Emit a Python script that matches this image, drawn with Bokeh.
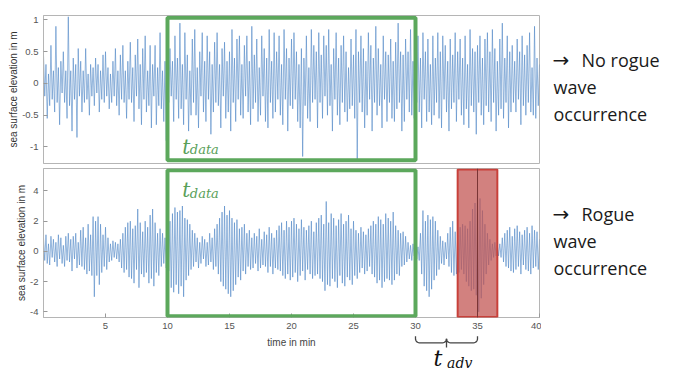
import numpy as np
from bokeh.plotting import figure
from bokeh.layouts import column, row
from bokeh.models import (BoxAnnotation, Span, Label, FixedTicker,
                          CustomJSTickFormatter, Range1d, ColumnDataSource)
from bokeh.core.properties import value
from bokeh.embed import file_html
from bokeh.resources import INLINE

# ---------------- data (sea surface elevation in m, sampled every 0.1 min) -------------
sample_step_min = 0.1

elev_no_rogue = [
    0.45,-0.2,0.3,-0.55,0.15,-0.35,0.6,-0.25,0.2,-0.45,
    0.9,-0.3,0.25,-0.65,0.35,-0.15,0.5,-0.3,0.2,-0.55,
    1.05,-0.35,0.2,-0.75,0.4,-0.25,0.3,-0.85,0.55,-0.2,
    0.35,-0.45,0.2,-0.3,0.55,-0.25,0.15,-0.5,0.3,-0.2,
    0.25,-0.35,0.4,-0.15,0.3,-0.45,0.2,-0.25,0.45,-0.3,
    0.5,-0.2,0.25,-0.4,0.15,-0.3,0.35,-0.2,0.55,-0.35,
    0.2,-0.5,0.45,-0.25,0.6,-0.3,0.2,-0.55,0.35,-0.25,
    0.65,-0.3,0.25,-0.6,0.45,-0.2,0.7,-0.4,0.3,-0.65,
    0.55,-0.25,0.75,-0.45,0.2,-0.35,0.6,-0.7,0.3,-0.2,
    0.6,-0.65,0.25,-0.35,0.8,-0.4,0.2,-0.6,0.35,-0.9,
    0.45,-0.3,0.55,-0.2,0.35,-0.6,0.75,-0.25,0.4,-0.55,
    0.95,-0.4,0.3,-0.65,0.8,-0.25,0.45,-0.75,0.2,-0.5,
    0.7,-0.3,0.85,-0.5,0.25,-0.7,0.5,-0.2,0.8,-0.45,
    0.35,-0.6,0.75,-0.25,0.5,-0.8,0.3,-0.45,0.65,-0.3,
    0.8,-0.35,0.3,-0.7,0.55,-0.2,0.65,-0.55,0.35,-0.45,
    0.5,-0.75,0.85,-0.3,0.4,-0.6,0.7,-0.25,0.75,-0.5,
    0.3,-0.55,0.6,-0.2,0.75,-0.45,0.35,-0.65,0.9,-0.4,
    0.45,-0.3,0.7,-0.6,0.25,-0.5,0.75,-0.2,0.55,-0.6,
    0.4,-0.7,0.85,-0.3,0.35,-0.55,0.8,-0.45,0.5,-0.25,
    0.75,-0.5,0.3,-0.65,0.85,-0.25,0.55,-0.75,0.4,-0.35,
    0.7,-0.4,0.8,-0.25,0.5,-0.6,0.3,-0.7,0.55,-1.15,
    0.4,-0.35,0.75,-0.55,0.25,-0.6,0.85,-0.3,0.6,-0.25,
    0.5,-0.7,0.8,-0.3,0.45,-0.55,0.75,-0.2,0.6,-0.5,
    0.85,-0.35,0.3,-0.75,0.55,-0.25,0.8,-0.5,0.4,-0.65,
    0.6,-0.3,0.75,-0.45,0.5,-0.6,0.25,-0.4,0.7,-0.35,
    0.45,-0.55,0.85,-1.2,0.5,-0.3,0.75,-0.45,0.55,-0.7,
    0.35,-0.5,0.8,-0.25,0.6,-0.75,0.4,-0.3,0.9,-0.5,
    0.55,-0.35,0.3,-0.7,0.75,-0.25,0.5,-0.6,0.45,-0.3,
    0.7,-0.55,0.35,-0.6,0.65,-0.4,0.95,-0.3,0.5,-0.75,
    0.45,-0.6,0.7,-0.25,0.5,-0.45,0.85,-0.5,0.35,-0.55,
    0.6,-0.3,0.75,-0.45,0.4,-0.7,0.8,-0.25,0.5,-0.6,
    0.7,-0.45,0.3,-0.65,0.75,-0.5,0.4,-0.3,0.8,-0.55,
    0.5,-0.7,0.75,-0.25,0.6,-0.45,0.35,-0.75,0.7,-0.4,
    0.45,-0.3,0.8,-0.6,0.5,-0.25,0.7,-0.5,0.4,-0.65,
    0.75,-0.4,0.3,-0.7,0.85,-0.35,0.55,-0.45,0.5,-0.8,
    0.6,-0.3,0.75,-0.5,0.4,-0.65,0.7,-0.35,0.8,-0.45,
    0.5,-0.6,0.85,-0.3,0.55,-0.75,0.35,-0.5,0.7,-0.4,
    0.95,-0.55,0.4,-0.3,0.75,-0.7,0.5,-0.45,0.6,-0.3,
    0.35,-0.45,0.7,-0.25,0.5,-0.65,0.75,-0.35,0.45,-0.5,
    0.6,-0.3,0.8,-0.45,0.25,-0.5,0.9,-0.55,0.4,-0.35,
    0.3,
]

elev_rogue = [
    0.9,-0.6,1.1,-0.8,0.5,-0.9,1.0,-0.4,0.8,-0.7,
    0.6,-1.0,1.1,-0.5,0.9,-0.8,0.4,-1.0,1.0,-0.6,
    1.2,-0.7,0.8,-1.3,1.0,-0.5,1.2,-1.1,0.6,-0.9,
    1.4,-1.0,1.6,-1.2,0.9,-1.5,1.8,-1.3,1.1,-1.6,
    2.3,-3.0,2.0,-1.6,2.3,-2.2,1.8,-1.4,1.1,-1.0,
    1.6,-1.2,0.9,-0.7,0.5,-0.6,0.7,-0.4,0.6,-0.5,
    0.5,-0.7,0.8,-1.1,1.2,-1.4,1.6,-1.2,1.9,-1.7,
    2.0,-1.8,1.5,-2.1,1.7,-1.2,2.8,-2.4,1.9,-1.5,
    1.3,-1.7,2.0,-1.4,1.6,-2.1,2.4,-1.8,2.8,-2.3,
    1.9,-1.4,1.2,-1.6,1.5,-1.0,1.2,-0.8,0.9,-1.1,
    1.8,-1.3,2.0,-2.4,2.5,-2.7,2.9,-2.2,2.6,-2.8,
    2.7,-2.3,3.0,-3.0,2.2,-1.9,2.1,-1.6,1.8,-1.2,
    1.4,-1.0,1.2,-0.7,0.9,-1.1,0.6,-0.8,1.0,-0.5,
    0.8,-1.0,0.6,-0.9,1.2,-0.7,0.9,-1.2,1.5,-1.0,
    1.8,-1.5,2.2,-2.0,2.6,-2.3,3.0,-2.5,2.4,-2.8,
    2.7,-3.0,2.2,-2.6,1.9,-2.2,2.1,-1.7,1.5,-1.9,
    1.6,-1.3,1.8,-1.5,1.2,-1.0,1.4,-1.2,0.9,-1.1,
    1.2,-0.8,1.0,-1.3,1.5,-1.1,0.8,-0.9,1.3,-1.0,
    1.1,-1.4,1.6,-1.0,1.2,-1.5,0.9,-1.1,1.4,-1.2,
    1.7,-1.3,1.9,-1.6,1.4,-1.8,2.0,-1.5,1.6,-1.9,
    2.0,-1.7,2.2,-1.4,1.8,-2.0,1.5,-1.6,2.1,-1.3,
    1.6,-1.9,1.4,-1.2,1.7,-1.5,2.0,-1.8,1.3,-1.6,
    1.9,-1.5,2.2,-1.8,2.4,-2.0,1.8,-2.6,3.3,-2.2,
    1.9,-2.3,2.5,-1.8,2.2,-2.0,1.7,-2.4,2.1,-1.6,
    2.5,-2.1,1.8,-2.3,2.0,-1.7,2.4,-1.9,1.5,-2.2,
    2.0,-1.6,1.4,-1.8,1.2,-1.4,1.6,-1.1,1.3,-1.5,
    1.1,-1.3,1.5,-1.0,1.7,-1.5,2.0,-1.7,1.8,-2.1,
    2.3,-1.9,2.1,-2.4,1.8,-2.0,2.5,-1.8,2.2,-1.9,
    2.0,-2.2,2.6,-1.9,1.7,-1.5,1.4,-1.6,1.2,-1.0,
    1.3,-0.9,1.0,-0.7,0.6,-0.5,0.4,-0.6,0.5,-0.3,
    0.4,-0.5,0.3,-0.6,1.2,-1.5,2.7,-2.3,2.0,-2.6,
    2.4,-3.0,2.1,-2.5,2.3,-1.9,2.0,-1.6,1.4,-1.2,
    1.0,-0.8,0.7,-0.9,0.6,-0.5,1.2,-1.0,1.6,-1.4,
    2.0,-1.6,1.3,-1.5,1.1,-1.4,1.6,-1.2,1.8,-1.5,
    1.7,-2.0,1.5,-2.3,2.0,-2.6,2.8,-2.5,3.2,-2.9,
    4.3,-4.0,3.5,-3.1,2.7,-2.2,1.8,-1.5,1.2,-0.9,
    0.8,-0.6,0.5,-0.4,0.6,-0.3,0.4,-0.3,0.5,-0.4,
    0.9,-0.7,1.2,-1.0,1.4,-1.1,1.6,-1.3,1.0,-1.4,
    1.5,-1.2,1.7,-1.0,1.3,-1.5,1.1,-0.9,1.4,-1.2,
    1.6,-1.3,1.2,-1.5,1.7,-1.1,1.4,-1.0,1.3,-1.2,
    0.8,
]

x_ticks = [5, 10, 15, 20, 25, 30, 35, 40]
y_ticks_top = [-1, -0.5, 0, 0.5, 1]
y_ticks_bottom = [-4, -2, 0, 2, 4]

t_data_window = (10, 30)        # min
t_rogue_peak = 35               # min
rogue_window = (33.4, 36.6)     # min

side_text_top = ["No rogue", "wave", "occurrence"]
side_text_bottom = ["Rogue", "wave", "occurrence"]

time_top = np.arange(len(elev_no_rogue)) * sample_step_min
time_bottom = np.arange(len(elev_rogue)) * sample_step_min

# ---------------- styling ----------------
GREEN = "#5ca85c"
GREEN_TXT = "#5a9f5a"
WAVE = "#4f86c6"
FRAME = "#b5b5b5"
TICKLBL = "#555555"

LEFT_W = 541     # width of the plot column
LEFT = 43
RIGHT = 2
TXT_W = 680 - LEFT_W
TOTAL_H = 370

fmt = CustomJSTickFormatter(code="return String(tick);")


def style_axis(ax, ticks, label):
    ax.ticker = FixedTicker(ticks=ticks)
    ax.formatter = fmt
    ax.axis_label = label
    ax.axis_label_text_font = "Liberation Sans"
    ax.axis_label_text_font_style = "normal"
    ax.axis_label_text_font_size = "10px"
    ax.axis_label_text_color = "#333333"
    ax.axis_label_standoff = 0
    ax.major_label_text_font = "Liberation Sans"
    ax.major_label_text_font_size = "9.5px"
    ax.major_label_text_color = TICKLBL
    ax.major_label_standoff = 5
    ax.major_tick_in = 4
    ax.major_tick_out = 0
    ax.minor_tick_in = 0
    ax.minor_tick_out = 0
    ax.major_tick_line_color = "#999999"
    ax.axis_line_color = FRAME


def base_fig(height, yr, border_top, border_bottom, x_axis):
    p = figure(width=LEFT_W, height=height, x_range=Range1d(0, 40), y_range=Range1d(*yr),
               output_backend="svg", toolbar_location=None,
               x_axis_location=("below" if x_axis else None),
               min_border_left=LEFT, min_border_right=RIGHT,
               min_border_top=border_top, min_border_bottom=border_bottom)
    p.grid.visible = False
    p.outline_line_color = FRAME
    p.outline_line_width = 1
    p.background_fill_color = "white"
    p.border_fill_color = "white"
    return p


# ---------------- top panel ----------------
p1 = base_fig(165, (-1.26, 1.07), 15, 2, False)
p1.line(x="t", y="h", source=ColumnDataSource(dict(t=time_top, h=elev_no_rogue)),
        line_color=WAVE, line_width=0.6)
style_axis(p1.yaxis[0], y_ticks_top, "sea surface elevation in m")

p1.add_layout(BoxAnnotation(left=t_data_window[0], right=t_data_window[1], top=1.035, bottom=-1.21,
                            fill_alpha=0, line_color=GREEN, line_alpha=1, line_width=4))
p1.add_layout(Label(x=11.19, y=-0.993, text="t", text_font="DejaVu Serif", text_font_style="italic",
                    text_font_size="20px", text_color=GREEN_TXT, text_baseline="alphabetic"))
p1.add_layout(Label(x=11.8, y=-1.04, text="data", text_font="DejaVu Serif", text_font_style="italic",
                    text_font_size="13px", text_color=GREEN_TXT, text_baseline="alphabetic"))

# ---------------- bottom panel ----------------
p2 = base_fig(170, (-4.37, 5.48), 3, 18, True)
p2.line(x="t", y="h", source=ColumnDataSource(dict(t=time_bottom, h=elev_rogue)),
        line_color=WAVE, line_width=0.6)
style_axis(p2.yaxis[0], y_ticks_bottom, "sea surface elevation in m")
style_axis(p2.xaxis[0], x_ticks, None)

p2.add_layout(BoxAnnotation(left=t_data_window[0], right=t_data_window[1], top=5.37, bottom=-4.28,
                            fill_alpha=0, line_color=GREEN, line_alpha=1, line_width=4))
p2.add_layout(BoxAnnotation(left=rogue_window[0], right=rogue_window[1], top=5.42, bottom=-4.33,
                            fill_color="#c0504d", fill_alpha=0.72, line_color="#c8403a",
                            line_alpha=1, line_width=2))
p2.add_layout(Span(location=t_rogue_peak, dimension="height", line_color="#7a3535", line_width=1))

p2.add_layout(Label(x=11.19, y=4.03, text="t", text_font="DejaVu Serif", text_font_style="italic",
                    text_font_size="20px", text_color=GREEN_TXT, text_baseline="alphabetic"))
p2.add_layout(Label(x=11.8, y=3.83, text="data", text_font="DejaVu Serif", text_font_style="italic",
                    text_font_size="13px", text_color=GREEN_TXT, text_baseline="alphabetic"))

# ---------------- strip under the bottom panel: axis title + t_adv brace ----------------
p3_h = TOTAL_H - 165 - 170
p3 = figure(width=LEFT_W, height=p3_h, x_range=p2.x_range, y_range=Range1d(p3_h, 0),
            output_backend="svg", toolbar_location=None, x_axis_location=None, y_axis_location=None,
            min_border_left=LEFT, min_border_right=RIGHT, min_border_top=0, min_border_bottom=0)
p3.grid.visible = False
p3.outline_line_color = None
p3.text(x=[20], y=[7], text=["time in min"], text_font=value("Liberation Sans"),
        text_font_size="10px", text_color="#444444", text_align="center", text_baseline="middle")

# curly brace from the end of t_data to the rogue-wave peak
b0, b1 = t_data_window[1], t_rogue_peak
bm = (b0 + b1) / 2
sx = 12.4                      # px per minute (for round corners)
r = 4.0                        # corner radius in px
y_end, y_bar, y_stem = 0.8, 7.3, 12.0
a = np.linspace(0, np.pi / 2, 7)
end_x = list(b0 + (r / sx) * (1 - np.cos(a)))
end_y = list((y_bar - r) + r * np.sin(a))
mid_x = list(bm - r / sx + (r / sx) * np.sin(a))
mid_y = list(y_bar - r + r * np.cos(a))
arm_x = [b0] + end_x + mid_x
arm_y = [y_end] + end_y + mid_y
p3.multi_line(xs=[arm_x, [b1 - (x - b0) for x in arm_x], [bm, bm]],
              ys=[arm_y, arm_y, [y_bar - r, y_stem]],
              line_color="#444444", line_width=1.3)
p3.text(x=[31.45], y=[22.5], text=["t"], text_font=value("DejaVu Serif"), text_font_style="italic",
        text_font_size="22px", text_color="#111111", text_baseline="alphabetic")
p3.text(x=[32.55], y=[27], text=["adv"], text_font=value("DejaVu Serif"), text_font_style="italic",
        text_font_size="14px", text_color="#111111", text_baseline="alphabetic")

# ---------------- right-hand text column ----------------
pt = figure(width=TXT_W, height=TOTAL_H, x_range=Range1d(0, TXT_W), y_range=Range1d(TOTAL_H, 0),
            output_backend="svg", toolbar_location=None, x_axis_location=None, y_axis_location=None,
            min_border=0)
pt.grid.visible = False
pt.outline_line_color = None
pt.text(x=[11, 11], y=[59, 213], text=["\u2192", "\u2192"],
        text_font=value("DejaVu Sans"), text_font_size="20px", text_color="#1a1a1a",
        text_baseline="middle")
pt.text(x=[40, 12, 12, 40, 12, 12], y=[59, 86, 113, 213, 240, 267],
        text=side_text_top + side_text_bottom,
        text_font=value("Open Sans"), text_font_size="18px", text_color="#1a1a1a",
        text_baseline="middle")

layout = row(column(p1, p2, p3, spacing=0), pt, spacing=0)
open("out.html", "w").write(file_html(layout, INLINE))
